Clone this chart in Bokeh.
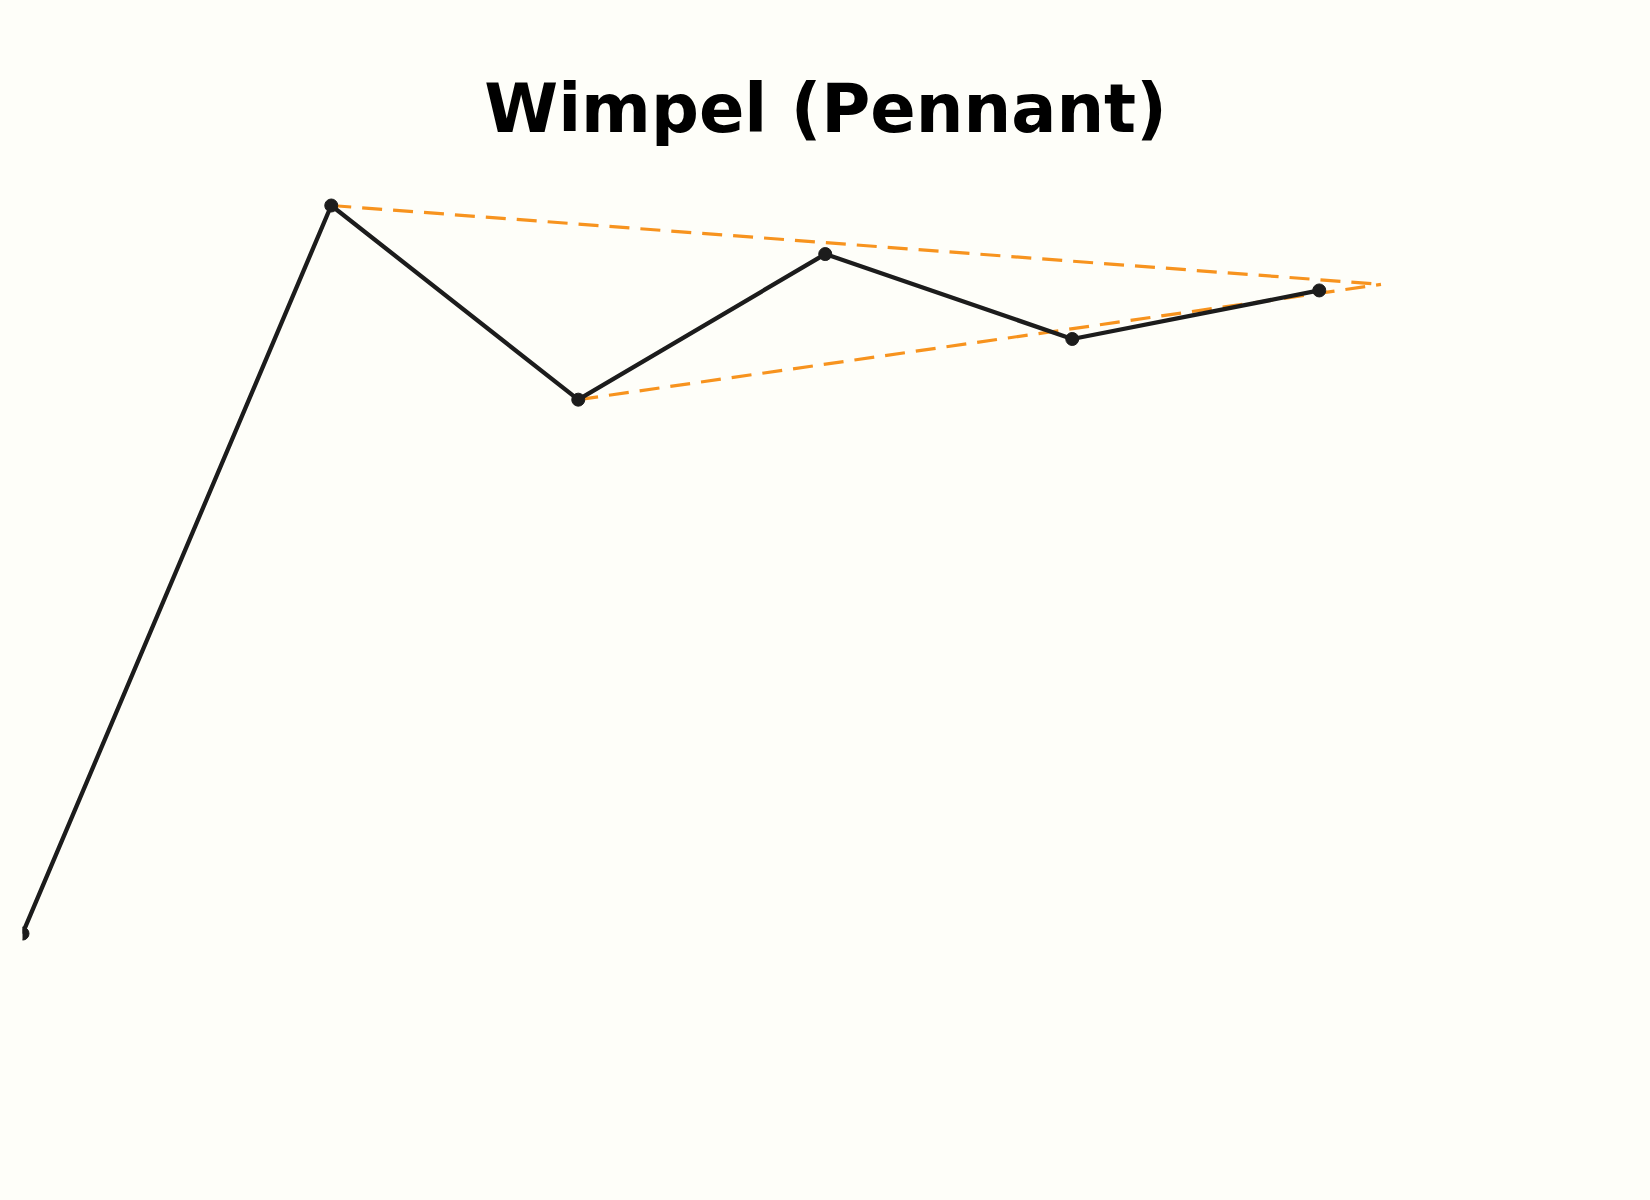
from bokeh.plotting import figure
from bokeh.models import Range1d, Label
from bokeh.embed import file_html
from bokeh.resources import INLINE

# data
price_x = [0, 5, 9, 13, 17, 21]
price_y = [100.0, 130.0, 122.0, 128.0, 124.5, 126.5]
upper_x = [5, 22]
upper_y = [130.0, 126.75]
lower_x = [9, 22]
lower_y = [122.0, 126.75]
title_text = "Wimpel (Pennant)"

BG = "#fefef9"
W, H = 1634, 1184
left_border = 22
px_per_x = 61.75
px_per_y = 24.27
frame_w = W - left_border
top_val = 130.0 + 205 / px_per_y

p = figure(width=W, height=H, output_backend="svg", toolbar_location=None,
           x_axis_location=None, y_axis_location=None,
           x_range=Range1d(0, frame_w / px_per_x),
           y_range=Range1d(top_val - H / px_per_y, top_val),
           min_border_left=left_border, min_border_right=0,
           min_border_top=0, min_border_bottom=0)
p.grid.visible = False
p.outline_line_color = None
p.background_fill_color = BG
p.border_fill_color = BG

p.line(upper_x, upper_y, line_color="#f7931e", line_width=3.2, line_dash="20 11")
p.line(lower_x, lower_y, line_color="#f7931e", line_width=3.2, line_dash="20 11")
p.line(price_x, price_y, line_color="#1c1c1c", line_width=4.3)
p.scatter(price_x, price_y, size=13, fill_color="#1c1c1c", line_color="#1c1c1c")

p.add_layout(Label(x=803, y=1076, x_units="screen", y_units="screen",
                   text=title_text, text_font="DejaVu Sans", text_font_style="bold",
                   text_font_size="67px", text_align="center", text_baseline="alphabetic",
                   text_color="#000000"))

html = file_html(p, INLINE)
html = html.replace("</head>", "<style>html,body{background:%s;}</style></head>" % BG, 1)
open("out.html", "w").write(html)
